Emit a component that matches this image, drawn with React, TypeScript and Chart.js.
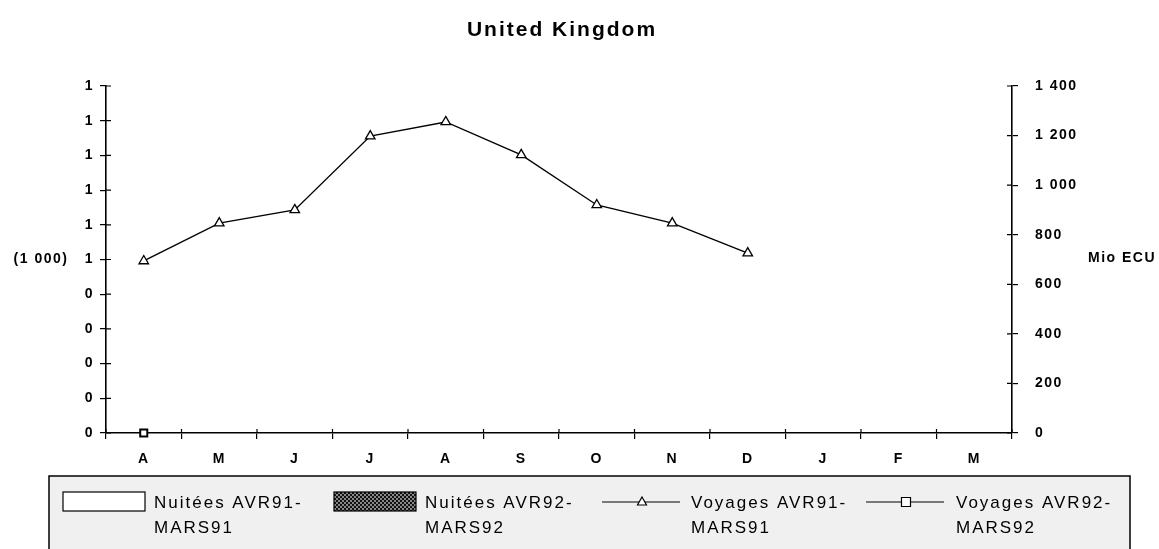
import React, { useEffect, useRef } from 'react';
import { Chart, registerables } from 'chart.js';

Chart.register(...registerables);

const months = ['A', 'M', 'J', 'J', 'A', 'S', 'O', 'N', 'D', 'J', 'F', 'M'];

// nights (left axis, 1 000) - no bars visible in the picture
const nights9192 = [null, null, null, null, null, null, null, null, null, null, null, null];
const nights9293 = [null, null, null, null, null, null, null, null, null, null, null, null];

// trips (right axis, Mio ECU)
const trips9192 = [694, 847, 900, 1198, 1255, 1122, 920, 847, 726, null, null, null];
const trips9293 = [0, null, null, null, null, null, null, null, null, null, null, null];

const labels = [
  'Nuitées AVR91-\nMARS91',
  'Nuitées AVR92-\nMARS92',
  'Voyages AVR91-\nMARS91',
  'Voyages AVR92-\nMARS92',
];

const FONT = '"Liberation Sans", Arial, sans-serif';

function makePattern(): CanvasPattern | string {
  const c = document.createElement('canvas');
  c.width = 4;
  c.height = 4;
  const g = c.getContext('2d');
  if (!g) return '#444';
  g.fillStyle = '#888';
  g.fillRect(0, 0, 4, 4);
  g.fillStyle = '#111';
  g.fillRect(0, 0, 2, 2);
  g.fillRect(2, 2, 2, 2);
  return g.createPattern(c, 'repeat') || '#444';
}

const spacingPlugin = {
  id: 'spacing',
  beforeUpdate(chart: any) {
    chart.ctx.letterSpacing = '1.5px';
  },
};

const decorPlugin = {
  id: 'decor',
  afterDraw(chart: any) {
    const ctx = chart.ctx;
    const { y, y2, x } = chart.scales;
    ctx.save();
    ctx.strokeStyle = '#000';
    ctx.lineWidth = 1.2;
    // inner halves of tick marks
    ctx.beginPath();
    y.ticks.forEach((_: any, i: number) => {
      const p = y.getPixelForTick(i);
      ctx.moveTo(y.right, p);
      ctx.lineTo(y.right + 5, p);
    });
    y2.ticks.forEach((_: any, i: number) => {
      const p = y2.getPixelForTick(i);
      ctx.moveTo(y2.left, p);
      ctx.lineTo(y2.left - 5, p);
    });
    for (let i = 0; i <= months.length; i++) {
      const p = x.left + (i * (x.right - x.left)) / months.length;
      ctx.moveTo(p, x.top);
      ctx.lineTo(p, x.top - 4);
    }
    ctx.stroke();

    // title and axis captions
    ctx.fillStyle = '#000';
    ctx.textBaseline = 'middle';
    ctx.textAlign = 'center';
    ctx.letterSpacing = '2px';
    ctx.font = `bold 21px ${FONT}`;
    ctx.fillText('United Kingdom', 562, 30);
    ctx.letterSpacing = '1.5px';
    ctx.font = `bold 14px ${FONT}`;
    ctx.fillText('(1 000)', 41, 259);
    ctx.fillText('Mio ECU', 1122, 258);

    // legend box
    ctx.fillStyle = '#f0f0f0';
    ctx.fillRect(49, 476, 1081, 80);
    ctx.lineWidth = 1.5;
    ctx.beginPath();
    ctx.moveTo(49, 560);
    ctx.lineTo(49, 476);
    ctx.lineTo(1130, 476);
    ctx.lineTo(1130, 560);
    ctx.stroke();

    const ds = chart.data.datasets;
    const items = [
      { sx: 63, sw: 82, tx: 154 },
      { sx: 334, sw: 82, tx: 425 },
      { sx: 602, sw: 78, tx: 691 },
      { sx: 866, sw: 78, tx: 956 },
    ];
    items.forEach((it, i) => {
      const d = ds[i];
      ctx.lineWidth = 1.2;
      if (d.type === 'bar') {
        ctx.fillStyle = d.backgroundColor;
        ctx.fillRect(it.sx, 492, it.sw, 19);
        ctx.strokeStyle = '#000';
        ctx.strokeRect(it.sx, 492, it.sw, 19);
      } else {
        ctx.strokeStyle = '#000';
        ctx.beginPath();
        ctx.moveTo(it.sx, 502);
        ctx.lineTo(it.sx + it.sw, 502);
        ctx.stroke();
        const cx = it.sx + it.sw / 2 + 1;
        ctx.fillStyle = '#fff';
        ctx.beginPath();
        if (d.pointStyle === 'triangle') {
          ctx.moveTo(cx, 497);
          ctx.lineTo(cx + 4.5, 505);
          ctx.lineTo(cx - 4.5, 505);
          ctx.closePath();
        } else {
          ctx.rect(cx - 4.5, 497.5, 9, 9);
        }
        ctx.fill();
        ctx.stroke();
      }
      ctx.fillStyle = '#000';
      ctx.textAlign = 'left';
      ctx.letterSpacing = '2px';
      ctx.font = `17px ${FONT}`;
      String(d.label)
        .split('\n')
        .forEach((line: string, k: number) => ctx.fillText(line, it.tx, 503 + k * 25));
    });
    ctx.restore();
  },
};

export default function App() {
  const canvasRef = useRef<HTMLCanvasElement>(null);
  const chartRef = useRef<Chart | null>(null);

  useEffect(() => {
    if (!canvasRef.current) return;
    if (chartRef.current) chartRef.current.destroy();
    const ctx = canvasRef.current.getContext('2d');
    if (!ctx) return;

    const tickFont = { family: FONT, size: 14, weight: 'bold' as const };

    chartRef.current = new Chart(ctx, {
      type: 'bar',
      data: {
        labels: months,
        datasets: [
          {
            type: 'bar',
            label: labels[0],
            data: nights9192,
            yAxisID: 'y',
            backgroundColor: '#fff',
            borderColor: '#000',
            borderWidth: 1,
          },
          {
            type: 'bar',
            label: labels[1],
            data: nights9293,
            yAxisID: 'y',
            backgroundColor: makePattern() as any,
            borderColor: '#000',
            borderWidth: 1,
          },
          {
            type: 'line',
            label: labels[2],
            data: trips9192,
            yAxisID: 'y2',
            borderColor: '#000',
            borderWidth: 1.4,
            pointStyle: 'triangle',
            pointRadius: 5.5,
            pointBackgroundColor: '#fff',
            pointBorderColor: '#000',
            pointBorderWidth: 1.3,
            clip: false,
          },
          {
            type: 'line',
            label: labels[3],
            data: trips9293,
            yAxisID: 'y2',
            borderColor: '#000',
            borderWidth: 1.4,
            pointStyle: 'rect',
            pointRadius: 5,
            pointBackgroundColor: '#fff',
            pointBorderColor: '#000',
            pointBorderWidth: 2,
            clip: false,
          },
        ],
      },
      options: {
        responsive: false,
        maintainAspectRatio: false,
        animation: false,
        layout: { padding: { top: 86, bottom: 76, left: 0, right: 0 } },
        plugins: {
          legend: { display: false },
          title: { display: false },
          tooltip: { enabled: false },
        },
        scales: {
          x: {
            offset: true,
            clip: false,
            grid: { offset: true, drawOnChartArea: false, tickLength: 6, color: '#000', lineWidth: 1.2 },
            border: { color: '#000', width: 1.6 },
            ticks: { color: '#000', font: tickFont, padding: 12, maxRotation: 0 },
            afterFit: (s: any) => {
              s.height = 40;
            },
          },
          y: {
            position: 'left',
            min: 0,
            max: 1,
            grid: { drawOnChartArea: false, tickLength: 6, color: '#000', lineWidth: 1.2 },
            border: { color: '#000', width: 1.6 },
            ticks: {
              stepSize: 0.1,
              color: '#000',
              font: tickFont,
              padding: 6,
              callback: (v: any) => String(Math.round(Number(v))),
            },
            afterFit: (s: any) => {
              s.width = 106;
            },
          },
          y2: {
            position: 'right',
            min: 0,
            max: 1400,
            grid: { drawOnChartArea: false, tickLength: 6, color: '#000', lineWidth: 1.2 },
            border: { color: '#000', width: 1.6 },
            ticks: {
              stepSize: 200,
              color: '#000',
              font: tickFont,
              padding: 17,
              callback: (v: any) => String(v).replace(/\B(?=(\d{3})+(?!\d))/g, ' '),
            },
            afterFit: (s: any) => {
              s.width = 147;
            },
          },
        },
      },
      plugins: [spacingPlugin, decorPlugin],
    } as any);

    return () => {
      if (chartRef.current) {
        chartRef.current.destroy();
        chartRef.current = null;
      }
    };
  }, []);

  return (
    <div style={{ position: 'fixed', left: 0, top: 0, width: 1159, height: 549, background: '#fff' }}>
      <canvas ref={canvasRef} width={1159} height={549} style={{ width: 1159, height: 549 }} />
    </div>
  );
}
